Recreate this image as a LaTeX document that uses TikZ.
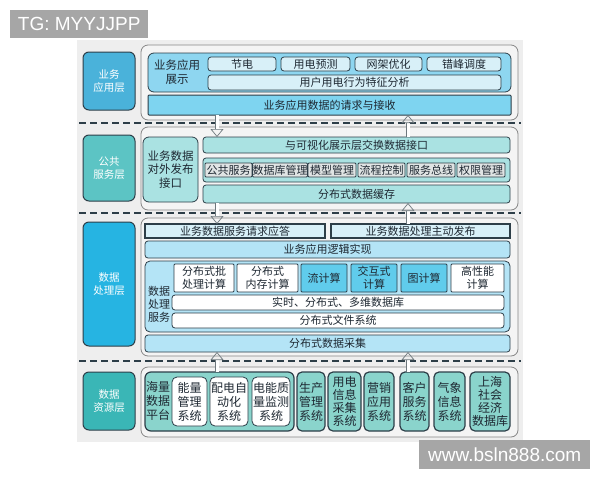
\documentclass[tikz,border=0pt]{standalone}
\usepackage{fontspec}
\usepackage{tikz}
\usetikzlibrary{arrows.meta}
\newfontfamily\cjk{Noto Sans CJK SC}
\newfontfamily\wmfont{Liberation Sans}

\definecolor{pagebg}{RGB}{238,238,238}
\definecolor{panelbg}{RGB}{244,244,244}
\definecolor{panelline}{RGB}{135,135,135}
\definecolor{darkline}{RGB}{45,62,72}
\definecolor{txt}{RGB}{30,40,50}
\definecolor{wmgray}{RGB}{166,166,166}
\definecolor{arrowgray}{RGB}{110,120,125}
\definecolor{blueA}{RGB}{74,178,218}
\definecolor{blueB}{RGB}{142,214,240}
\definecolor{blueC}{RGB}{216,240,248}
\definecolor{blueD}{RGB}{126,212,240}
\definecolor{tealA}{RGB}{92,196,196}
\definecolor{tealB}{RGB}{170,226,226}
\definecolor{svcgray}{RGB}{224,228,228}
\definecolor{blueE}{RGB}{38,180,226}
\definecolor{blueF}{RGB}{180,228,246}
\definecolor{blueG}{RGB}{96,204,236}
\definecolor{tealC}{RGB}{58,182,182}
\definecolor{tealD}{RGB}{138,212,204}

\begin{document}
\begin{tikzpicture}[x=1pt,y=-1pt,
  sz/.style 2 args={minimum width=#1, minimum height=#2},
  box/.style={draw=darkline, line width=0.8pt, rounded corners=3pt, inner sep=0pt, outer sep=0pt,
    text=txt, font=\cjk\fontsize{11}{13}\selectfont, align=center},
  layerlbl/.style={draw=darkline, line width=1pt, rounded corners=6pt, inner sep=0pt,
    text=white, font=\cjk\fontsize{10.5}{13}\selectfont, align=center},
  panel/.style={draw=panelline, fill=panelbg, line width=0.8pt, rounded corners=7pt},
  sepline/.style={draw=darkline, line width=1.3pt, dash pattern=on 7pt off 4pt},
  plain/.style={inner sep=0pt, text=txt, font=\cjk\fontsize{11}{13}\selectfont, align=center},
  flowarrow/.style={draw=arrowgray, line width=0.7pt, double=white, double distance=3pt,
    -{Triangle[open, length=8pt, width=13pt]}},
  wmark/.style={fill=wmgray, text=white, inner sep=0pt, font=\wmfont\fontsize{19}{19}\selectfont}]

%Background
\fill[white] (0,0) rectangle (600,480);
\fill[pagebg] (77,40) rectangle (523,442);

%Layer panels
\draw[panel] (141,45) rectangle (518,120);
\draw[panel] (141,127) rectangle (518,210);
\draw[panel] (141,218) rectangle (518,356);
\draw[panel] (141,367) rectangle (518,437);

%Dashed separators
\draw[sepline] (79,123) -- (521,123);
\draw[sepline] (79,213) -- (521,213);
\draw[sepline] (79,361) -- (521,361);

%Layer labels
\node[layerlbl, fill=blueA, sz={52}{58}] (lay1) at (109,81) {业务\\应用层};
\node[layerlbl, fill=tealA, sz={52}{66}] (lay2) at (109,168) {公共\\服务层};
\node[layerlbl, fill=blueE, sz={52}{124}] (lay3) at (109,284) {数据\\处理层};
\node[layerlbl, fill=tealC, sz={52}{58}] (lay4) at (109,401) {数据\\资源层};

%Layer 1: business application
\node[box, fill=blueB, rounded corners=6pt, sz={363}{39}] (show) at (329.5,72.5) {};
\node[plain, font=\cjk\fontsize{11.5}{14}\selectfont] (showtxt) at (177,72) {业务应用\\展示};
\node[box, fill=blueC, sz={68}{14}] (jiedian) at (242,64) {节电};
\node[box, fill=blueC, sz={69}{14}] (yuce) at (315.5,64) {用电预测};
\node[box, fill=blueC, sz={67}{14}] (wangjia) at (388.5,64) {网架优化};
\node[box, fill=blueC, sz={74}{14}] (cuofeng) at (464,64) {错峰调度};
\node[box, fill=blueC, sz={293}{15}] (xingwei) at (354.5,82.5) {用户用电行为特征分析};
\node[box, fill=blueD, line width=1pt, rounded corners=1pt, sz={363}{20}] (jieshou) at (329.5,105) {业务应用数据的请求与接收};

%Layer 2: public services
\node[box, fill=tealB, rounded corners=6pt, font=\cjk\fontsize{11.5}{13.5}\selectfont, sz={55}{65}] (fabu) at (170.5,169.5) {业务数据\\对外发布\\接口};
\node[box, fill=tealB, sz={307}{16}] (jiaohuan) at (356.5,145) {与可视化展示层交换数据接口};
\node[box, fill=tealB, sz={307}{24}] (svcrow) at (356.5,170) {};
\node[box, fill=svcgray, rounded corners=1pt, sz={47}{14}] (gonggong) at (228.5,170) {公共服务};
\node[box, fill=svcgray, rounded corners=1pt, sz={52}{14}] (shujuku) at (280,170) {数据库管理};
\node[box, fill=svcgray, rounded corners=1pt, sz={48}{14}] (moxing) at (332,170) {模型管理};
\node[box, fill=svcgray, rounded corners=1pt, sz={47}{14}] (liucheng) at (381.5,170) {流程控制};
\node[box, fill=svcgray, rounded corners=1pt, sz={48}{14}] (zongxian) at (431,170) {服务总线};
\node[box, fill=svcgray, rounded corners=1pt, sz={48}{14}] (quanxian) at (481,170) {权限管理};
\node[box, fill=tealB, sz={307}{18}] (huancun) at (356.5,194) {分布式数据缓存};

%Layer 3: data processing
\node[box, fill=blueC, line width=1.2pt, rounded corners=0pt, sz={180}{14}] (yingda) at (235,231) {业务数据服务请求应答};
\node[box, fill=blueC, line width=1.2pt, rounded corners=0pt, sz={179}{14}] (zhudong) at (420.5,231) {业务数据处理主动发布};
\node[box, fill=blueF, sz={365}{17}] (luoji) at (327.5,249.5) {业务应用逻辑实现};
\node[box, fill=blueF, rounded corners=5pt, sz={365}{71}] (chuli) at (327.5,296.5) {};
\node[plain] (chulitxt) at (159,304) {数据\\处理\\服务};
\node[box, fill=white, rounded corners=1pt, sz={60}{28}] (pichuli) at (204,278) {分布式批\\处理计算};
\node[box, fill=white, rounded corners=1pt, sz={61}{28}] (neicun) at (267.5,278) {分布式\\内存计算};
\node[box, fill=blueG, rounded corners=1pt, sz={46}{28}] (liu) at (324,278) {流计算};
\node[box, fill=blueG, rounded corners=1pt, sz={46}{28}] (jiaohu) at (374,278) {交互式\\计算};
\node[box, fill=blueG, rounded corners=1pt, sz={46}{28}] (tu) at (424,278) {图计算};
\node[box, fill=white, rounded corners=1pt, sz={53}{28}] (gaoxing) at (477.5,278) {高性能\\计算};
\node[box, fill=white, sz={332}{15}] (duowei) at (338,302.5) {实时、分布式、多维数据库};
\node[box, fill=white, sz={332}{15}] (wenjian) at (338,320.5) {分布式文件系统};
\node[box, fill=blueF, sz={365}{17}] (caiji) at (327.5,343.5) {分布式数据采集};

%Layer 4: data resources
\node[box, fill=tealD, line width=1.2pt, rounded corners=6pt, sz={149}{59}] (pingtai) at (219.5,401.5) {};
\node[plain, font=\cjk\fontsize{12}{14}\selectfont] (pingtaitxt) at (158,401) {海量\\数据\\平台};
\node[box, fill=white, rounded corners=5pt, font=\cjk\fontsize{12}{14}\selectfont, sz={35}{49}] (nengliang) at (189.5,401.5) {能量\\管理\\系统};
\node[box, fill=white, rounded corners=5pt, font=\cjk\fontsize{12}{14}\selectfont, sz={38}{49}] (peidian) at (229,401.5) {配电自\\动化\\系统};
\node[box, fill=white, rounded corners=5pt, font=\cjk\fontsize{12}{14}\selectfont, sz={38}{49}] (zhiliang) at (271,401.5) {电能质\\量监测\\系统};
\node[box, fill=tealD, line width=1.2pt, rounded corners=5pt, font=\cjk\fontsize{12}{14}\selectfont, sz={28}{59}] (shengchan) at (311,401.5) {生产\\管理\\系统};
\node[box, fill=tealD, line width=1.2pt, rounded corners=5pt, font=\cjk\fontsize{12}{13}\selectfont, sz={33}{59}] (yongdian) at (344.5,401.5) {用电\\信息\\采集\\系统};
\node[box, fill=tealD, line width=1.2pt, rounded corners=5pt, font=\cjk\fontsize{12}{14}\selectfont, sz={30}{59}] (yingxiao) at (379,401.5) {营销\\应用\\系统};
\node[box, fill=tealD, line width=1.2pt, rounded corners=5pt, font=\cjk\fontsize{12}{14}\selectfont, sz={29}{59}] (kehu) at (414.5,401.5) {客户\\服务\\系统};
\node[box, fill=tealD, line width=1.2pt, rounded corners=5pt, font=\cjk\fontsize{12}{14}\selectfont, sz={31}{59}] (qixiang) at (449.5,401.5) {气象\\信息\\系统};
\node[box, fill=tealD, line width=1.2pt, rounded corners=5pt, font=\cjk\fontsize{12}{13}\selectfont, sz={40}{59}] (shanghai) at (490,401.5) {上海\\社会\\经济\\数据库};

%Arrows between layers
\draw[flowarrow] (jieshou.south -| 217,0) -- (jiaohuan.north -| 217,0);
\draw[flowarrow] (jiaohuan.north -| 408,0) -- (jieshou.south -| 408,0);
\draw[flowarrow] (huancun.south -| 217,0) -- (yingda.north -| 217,0);
\draw[flowarrow] (zhudong.north -| 408,0) -- (huancun.south -| 408,0);
\draw[flowarrow] (pingtai.north -| 217,0) -- (caiji.south -| 217,0);
\draw[flowarrow] (kehu.north -| 408,0) -- (caiji.south -| 408,0);

%Watermarks
\node[wmark, anchor=north west, minimum width=138, minimum height=28] (tg) at (10,10) {TG: MYYJJPP};
\node[wmark, anchor=north west, minimum width=171, minimum height=29] (site) at (419,440) {www.bsln888.com};

\end{tikzpicture}
\end{document}
